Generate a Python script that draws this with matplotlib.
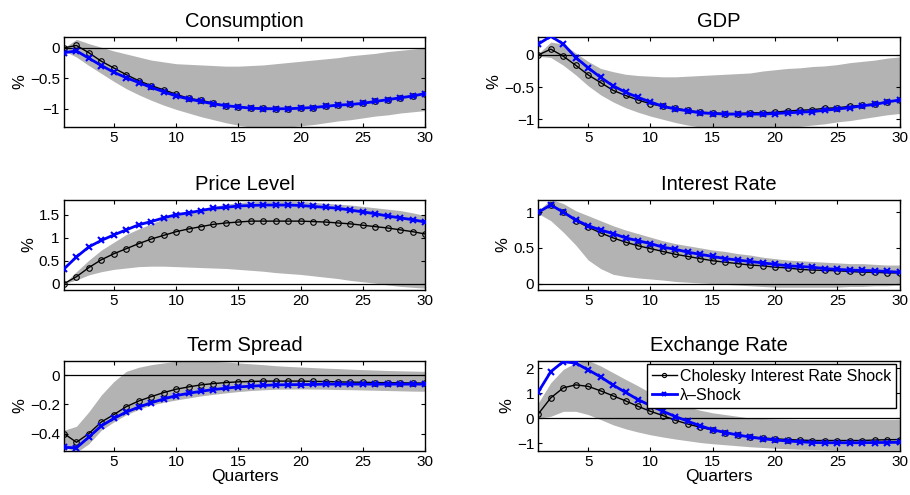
import matplotlib
matplotlib.use("Agg")
import matplotlib.pyplot as plt
import numpy as np

plt.rcParams['font.family'] = ['Liberation Sans', 'DejaVu Sans']

quarters = np.arange(1, 31)
titles = ['Consumption', 'GDP', 'Price Level', 'Interest Rate', 'Term Spread', 'Exchange Rate']

# Cholesky interest rate shock (black, circles)
chol_cons = [0.0, 0.04, -0.08, -0.22, -0.33, -0.44, -0.54, -0.62, -0.69, -0.76,
             -0.83, -0.86, -0.91, -0.95, -0.97, -0.99, -0.99, -1.0, -1.0, -0.99,
             -0.98, -0.96, -0.94, -0.93, -0.91, -0.88, -0.85, -0.82, -0.79, -0.75]
chol_gdp = [0.0, 0.09, -0.02, -0.16, -0.31, -0.43, -0.55, -0.63, -0.70, -0.76,
            -0.80, -0.83, -0.86, -0.89, -0.90, -0.91, -0.91, -0.90, -0.90, -0.89,
            -0.87, -0.86, -0.85, -0.83, -0.82, -0.80, -0.78, -0.76, -0.73, -0.70]
chol_price = [0.0, 0.15, 0.35, 0.52, 0.65, 0.76, 0.87, 0.97, 1.05, 1.13,
              1.19, 1.24, 1.29, 1.32, 1.34, 1.36, 1.36, 1.36, 1.36, 1.36,
              1.35, 1.34, 1.32, 1.30, 1.27, 1.24, 1.21, 1.17, 1.13, 1.08]
chol_rate = [1.0, 1.1, 1.0, 0.88, 0.79, 0.71, 0.64, 0.58, 0.53, 0.49,
             0.45, 0.41, 0.38, 0.35, 0.32, 0.30, 0.28, 0.26, 0.25, 0.23,
             0.22, 0.20, 0.19, 0.185, 0.18, 0.17, 0.16, 0.16, 0.15, 0.15]
chol_spread = [-0.40, -0.46, -0.40, -0.32, -0.27, -0.215, -0.176, -0.146, -0.118, -0.095,
               -0.079, -0.065, -0.056, -0.049, -0.044, -0.042, -0.039, -0.039, -0.039, -0.039,
               -0.041, -0.042, -0.044, -0.046, -0.047, -0.049, -0.05, -0.051, -0.052, -0.053]
chol_fx = [0.18, 0.82, 1.22, 1.34, 1.28, 1.10, 0.90, 0.70, 0.48, 0.28,
           0.11, -0.08, -0.23, -0.36, -0.47, -0.57, -0.66, -0.74, -0.79, -0.82,
           -0.85, -0.87, -0.89, -0.89, -0.89, -0.89, -0.89, -0.87, -0.86, -0.85]

# lambda shock (blue, crosses)
lam_cons = [-0.08, -0.05, -0.17, -0.29, -0.40, -0.49, -0.57, -0.65, -0.72, -0.79,
            -0.84, -0.88, -0.92, -0.95, -0.97, -0.99, -1.0, -1.0, -1.0, -0.99,
            -0.98, -0.96, -0.94, -0.93, -0.91, -0.88, -0.85, -0.82, -0.79, -0.75]
lam_gdp = [0.17, 0.29, 0.17, -0.04, -0.20, -0.35, -0.48, -0.58, -0.66, -0.73,
           -0.80, -0.84, -0.87, -0.90, -0.91, -0.92, -0.92, -0.92, -0.92, -0.91,
           -0.90, -0.89, -0.88, -0.86, -0.84, -0.82, -0.79, -0.77, -0.73, -0.70]
lam_price = [0.32, 0.58, 0.80, 0.94, 1.06, 1.17, 1.28, 1.35, 1.43, 1.50,
             1.54, 1.59, 1.64, 1.66, 1.69, 1.70, 1.71, 1.71, 1.71, 1.70,
             1.68, 1.66, 1.64, 1.60, 1.56, 1.52, 1.47, 1.43, 1.39, 1.34]
lam_rate = [1.0, 1.1, 1.0, 0.89, 0.81, 0.75, 0.70, 0.64, 0.60, 0.56,
            0.51, 0.48, 0.44, 0.41, 0.38, 0.35, 0.33, 0.31, 0.29, 0.27,
            0.25, 0.24, 0.23, 0.21, 0.20, 0.19, 0.185, 0.18, 0.17, 0.16]
lam_spread = [-0.495, -0.498, -0.424, -0.347, -0.296, -0.252, -0.218, -0.188, -0.162, -0.139,
              -0.123, -0.109, -0.097, -0.088, -0.079, -0.074, -0.069, -0.065, -0.064, -0.063,
              -0.062, -0.06, -0.06, -0.06, -0.06, -0.06, -0.06, -0.06, -0.06, -0.06]
lam_fx = [1.06, 1.87, 2.27, 2.21, 1.94, 1.66, 1.33, 1.04, 0.75, 0.51,
          0.28, 0.07, -0.12, -0.30, -0.46, -0.57, -0.67, -0.75, -0.82, -0.87,
          -0.91, -0.94, -0.97, -0.98, -0.98, -0.98, -0.98, -0.97, -0.97, -0.96]

# confidence bands (upper / lower)
up_cons = [0.0, 0.14, 0.07, 0.01, -0.05, -0.10, -0.15, -0.20, -0.23, -0.26,
           -0.27, -0.28, -0.29, -0.30, -0.30, -0.29, -0.28, -0.26, -0.24, -0.22,
           -0.20, -0.18, -0.16, -0.13, -0.11, -0.09, -0.06, -0.04, -0.02, 0.0]
lo_cons = [-0.05, -0.15, -0.29, -0.42, -0.55, -0.67, -0.77, -0.86, -0.94, -1.01,
           -1.07, -1.13, -1.18, -1.23, -1.27, -1.30, -1.31, -1.31, -1.30, -1.28,
           -1.26, -1.23, -1.20, -1.18, -1.15, -1.12, -1.10, -1.07, -1.05, -1.03]
up_gdp = [0.02, 0.20, 0.17, 0.03, -0.10, -0.21, -0.26, -0.30, -0.32, -0.33,
          -0.34, -0.34, -0.33, -0.32, -0.31, -0.30, -0.29, -0.28, -0.25, -0.23,
          -0.21, -0.20, -0.18, -0.17, -0.15, -0.12, -0.10, -0.08, -0.05, -0.03]
lo_gdp = [-0.02, -0.04, -0.16, -0.31, -0.48, -0.62, -0.73, -0.82, -0.89, -0.95,
          -1.0, -1.05, -1.09, -1.12, -1.13, -1.14, -1.14, -1.14, -1.14, -1.13,
          -1.12, -1.11, -1.09, -1.07, -1.04, -1.02, -0.99, -0.96, -0.93, -0.91]
up_price = [0.0, 0.26, 0.51, 0.73, 0.90, 1.07, 1.19, 1.30, 1.41, 1.50,
            1.56, 1.62, 1.68, 1.73, 1.76, 1.79, 1.80, 1.80, 1.80, 1.79,
            1.77, 1.75, 1.73, 1.71, 1.68, 1.65, 1.62, 1.59, 1.54, 1.48]
lo_price = [0.0, 0.08, 0.19, 0.26, 0.31, 0.34, 0.37, 0.38, 0.38, 0.37,
            0.36, 0.35, 0.34, 0.33, 0.31, 0.29, 0.27, 0.24, 0.22, 0.20,
            0.17, 0.14, 0.11, 0.07, 0.04, 0.01, -0.03, -0.06, -0.08, -0.10]
up_rate = [1.02, 1.18, 1.12, 1.02, 0.95, 0.88, 0.81, 0.75, 0.70, 0.65,
           0.60, 0.56, 0.53, 0.50, 0.47, 0.45, 0.42, 0.40, 0.37, 0.35,
           0.33, 0.32, 0.31, 0.30, 0.29, 0.28, 0.28, 0.27, 0.26, 0.26]
lo_rate = [0.98, 0.88, 0.72, 0.54, 0.33, 0.21, 0.13, 0.10, 0.08, 0.065,
           0.05, 0.03, 0.02, 0.01, 0.0, -0.01, -0.02, -0.03, -0.04, -0.05,
           -0.05, -0.05, -0.05, -0.05, -0.05, -0.04, -0.04, -0.03, -0.03, -0.02]
up_spread = [-0.377, -0.35, -0.25, -0.134, -0.042, 0.028, 0.056, 0.074, 0.086, 0.097,
             0.10, 0.10, 0.097, 0.092, 0.086, 0.080, 0.074, 0.067, 0.062, 0.058,
             0.054, 0.050, 0.047, 0.043, 0.040, 0.037, 0.034, 0.032, 0.030, 0.028]
lo_spread = [-0.49, -0.53, -0.47, -0.377, -0.32, -0.27, -0.234, -0.204, -0.185, -0.169,
             -0.155, -0.141, -0.130, -0.120, -0.111, -0.104, -0.099, -0.095, -0.094, -0.093,
             -0.094, -0.095, -0.097, -0.098, -0.10, -0.102, -0.104, -0.106, -0.108, -0.109]
up_fx = [0.62, 1.43, 1.96, 2.23, 2.32, 2.10, 1.83, 1.56, 1.30, 1.02,
         0.82, 0.62, 0.46, 0.32, 0.22, 0.15, 0.08, 0.01, -0.01, -0.03,
         -0.04, -0.05, -0.05, -0.05, -0.05, -0.05, -0.05, -0.05, -0.05, -0.05]
lo_fx = [0.0, 0.08, 0.28, 0.28, 0.15, -0.05, -0.26, -0.42, -0.55, -0.66,
         -0.75, -0.83, -0.90, -0.97, -1.02, -1.06, -1.10, -1.14, -1.17, -1.20,
         -1.22, -1.24, -1.25, -1.26, -1.27, -1.27, -1.27, -1.27, -1.27, -1.27]

chol = [chol_cons, chol_gdp, chol_price, chol_rate, chol_spread, chol_fx]
lam = [lam_cons, lam_gdp, lam_price, lam_rate, lam_spread, lam_fx]
upper = [up_cons, up_gdp, up_price, up_rate, up_spread, up_fx]
lower = [lo_cons, lo_gdp, lo_price, lo_rate, lo_spread, lo_fx]
ylims = [(-1.3, 0.18), (-1.12, 0.28), (-0.14, 1.82), (-0.09, 1.17), (-0.52, 0.1), (-1.31, 2.3)]
yticks = [[-1, -0.5, 0], [-1, -0.5, 0], [0, 0.5, 1, 1.5], [0, 0.5, 1], [-0.4, -0.2, 0], [-1, 0, 1, 2]]
yticklabels = [['\u22121', '\u22120.5', '0'], ['\u22121', '\u22120.5', '0'],
               ['0', '0.5', '1', '1.5'], ['0', '0.5', '1'],
               ['\u22120.4', '\u22120.2', '0'], ['\u22121', '0', '1', '2']]

fig = plt.figure(figsize=(9.1, 4.95), dpi=100)
lefts = [0.0703, 0.5916]
bottoms = [0.7434, 0.414, 0.0889]
w, h = 0.397, 0.182

for i in range(6):
    r, c = divmod(i, 2)
    ax = fig.add_axes([lefts[c], bottoms[r], w, h])
    ax.fill_between(quarters, lower[i], upper[i], color='#b3b3b3', linewidth=0, zorder=1)
    ax.axhline(0, color='black', linewidth=0.9, zorder=2)
    ax.plot(quarters, chol[i], '-o', color='black', linewidth=1, markersize=4,
            markerfacecolor='none', markeredgewidth=0.8, zorder=3,
            label='Cholesky Interest Rate Shock')
    ax.plot(quarters, lam[i], '-x', color='blue', linewidth=2, markersize=5,
            markeredgewidth=1.5, zorder=4, label='\u03bb\u2013Shock')
    ax.set_xlim(1, 30)
    ax.set_ylim(*ylims[i])
    ax.set_xticks([5, 10, 15, 20, 25, 30])
    ax.set_yticks(yticks[i])
    ax.set_yticklabels(yticklabels[i])
    ax.tick_params(direction='in', top=True, right=True, length=3, width=0.8,
                   labelsize=11, pad=3)
    for s in ax.spines.values():
        s.set_linewidth(1)
    ax.set_title(titles[i], fontsize=14.5, pad=7)
    ax.set_ylabel('%', fontsize=12, labelpad=2)
    if r == 2:
        ax.set_xlabel('Quarters', fontsize=12.5, labelpad=0)
    if i == 5:
        leg = ax.legend(loc='upper right', fontsize=11.5, fancybox=False, framealpha=1,
                        edgecolor='black', borderaxespad=0.2, handlelength=1.6,
                        borderpad=0.3, labelspacing=0.25, handletextpad=0.2)
        leg.get_frame().set_linewidth(1)
        for hl in leg.get_lines():
            hl.set_markersize(3)

fig.savefig('out.png', dpi=100)
